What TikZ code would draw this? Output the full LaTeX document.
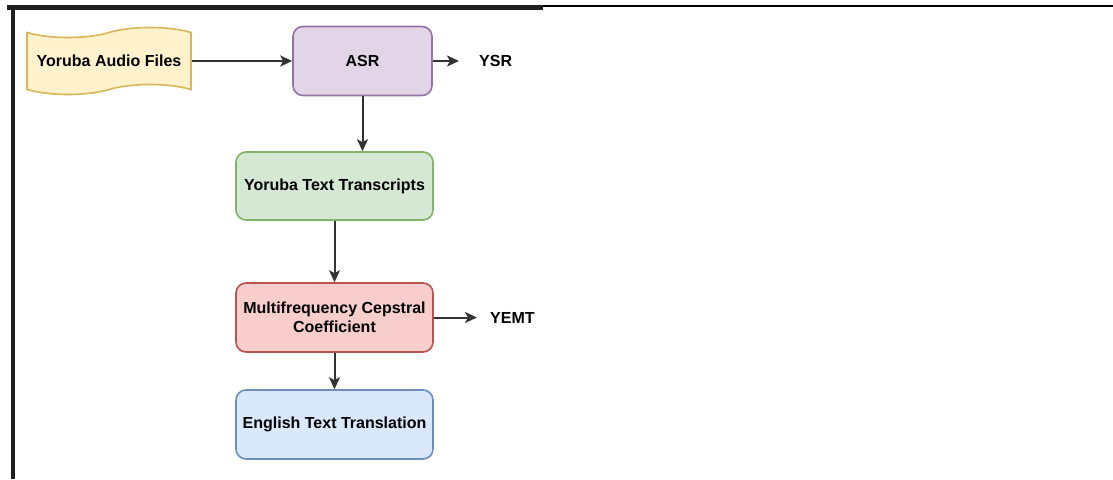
\documentclass[tikz,border=0pt]{standalone}
\usepackage{fontspec}
\setmainfont{Liberation Sans}
\usetikzlibrary{shapes.symbols, arrows.meta, positioning}
\definecolor{SandFill}{HTML}{FFF2CC}
\definecolor{SandLine}{HTML}{D6B656}
\definecolor{LilacFill}{HTML}{E1D5E7}
\definecolor{LilacLine}{HTML}{9673A6}
\definecolor{SageFill}{HTML}{D5E8D4}
\definecolor{SageLine}{HTML}{82B366}
\definecolor{RoseFill}{HTML}{F8CECC}
\definecolor{RoseLine}{HTML}{B85450}
\definecolor{SkyFill}{HTML}{DAE8FC}
\definecolor{SkyLine}{HTML}{6C8EBF}
\definecolor{ArrowGray}{HTML}{333333}
\newcommand{\boxfont}{\bfseries\fontsize{16}{18.5}\selectfont}
\tikzset{
    stagebox/.style={rectangle, rounded corners=10pt, line width=1.6pt,
                     minimum width=197pt, minimum height=69pt,
                     font=\boxfont, align=center, inner sep=4pt},
    flow/.style={-{Stealth[length=12pt, width=11pt, inset=3pt]},
                 line width=2pt, draw=ArrowGray},
    outlabel/.style={font=\boxfont, inner sep=0pt, anchor=west}
}

\begin{document}
\begin{tikzpicture}[x=1pt, y=-1pt]
    \useasboundingbox (0,0) rectangle (1113,479);

    % Scan border
    \fill[black!88] (7,5) rectangle (543,9.5);
    \fill[black] (543,5) rectangle (1113,7);
    \fill[black!88] (11,5) rectangle (15,479);

    % Input
    \node[tape, draw=SandLine, fill=SandFill, line width=1.6pt,
          minimum width=164pt, minimum height=67pt, tape bend height=10pt,
          font=\boxfont] (audio) at (109,61) {Yoruba Audio Files};

    % Pipeline stages
    \node[stagebox, draw=LilacLine, fill=LilacFill,
          minimum width=139pt] (asr) at (362.5,61) {ASR};
    \node[stagebox, draw=SageLine, fill=SageFill,
          minimum height=68pt] (trans) at (334.5,186) {Yoruba Text Transcripts};
    \node[stagebox, draw=RoseLine, fill=RoseFill] (mfcc) at (334.5,317.5)
          {Multifrequency Cepstral\\Coefficient};
    \node[stagebox, draw=SkyLine, fill=SkyFill] (english) at (334.5,424.5)
          {English Text Translation};

    % Outputs
    \node[outlabel] (ysr) at (479,61) {YSR};
    \node[outlabel] (yemt) at (490,317.5) {YEMT};

    % Connectors
    \draw[flow] (audio.east) -- (asr.west);
    \draw[flow, shorten >=20pt] (asr.east) -- (ysr.west);
    \draw[flow] (asr.south) -- (asr.south |- trans.north);
    \draw[flow] (trans) -- (mfcc);
    \draw[flow, shorten >=13pt] (mfcc.east) -- (yemt.west);
    \draw[flow] (mfcc) -- (english);
\end{tikzpicture}
\end{document}
